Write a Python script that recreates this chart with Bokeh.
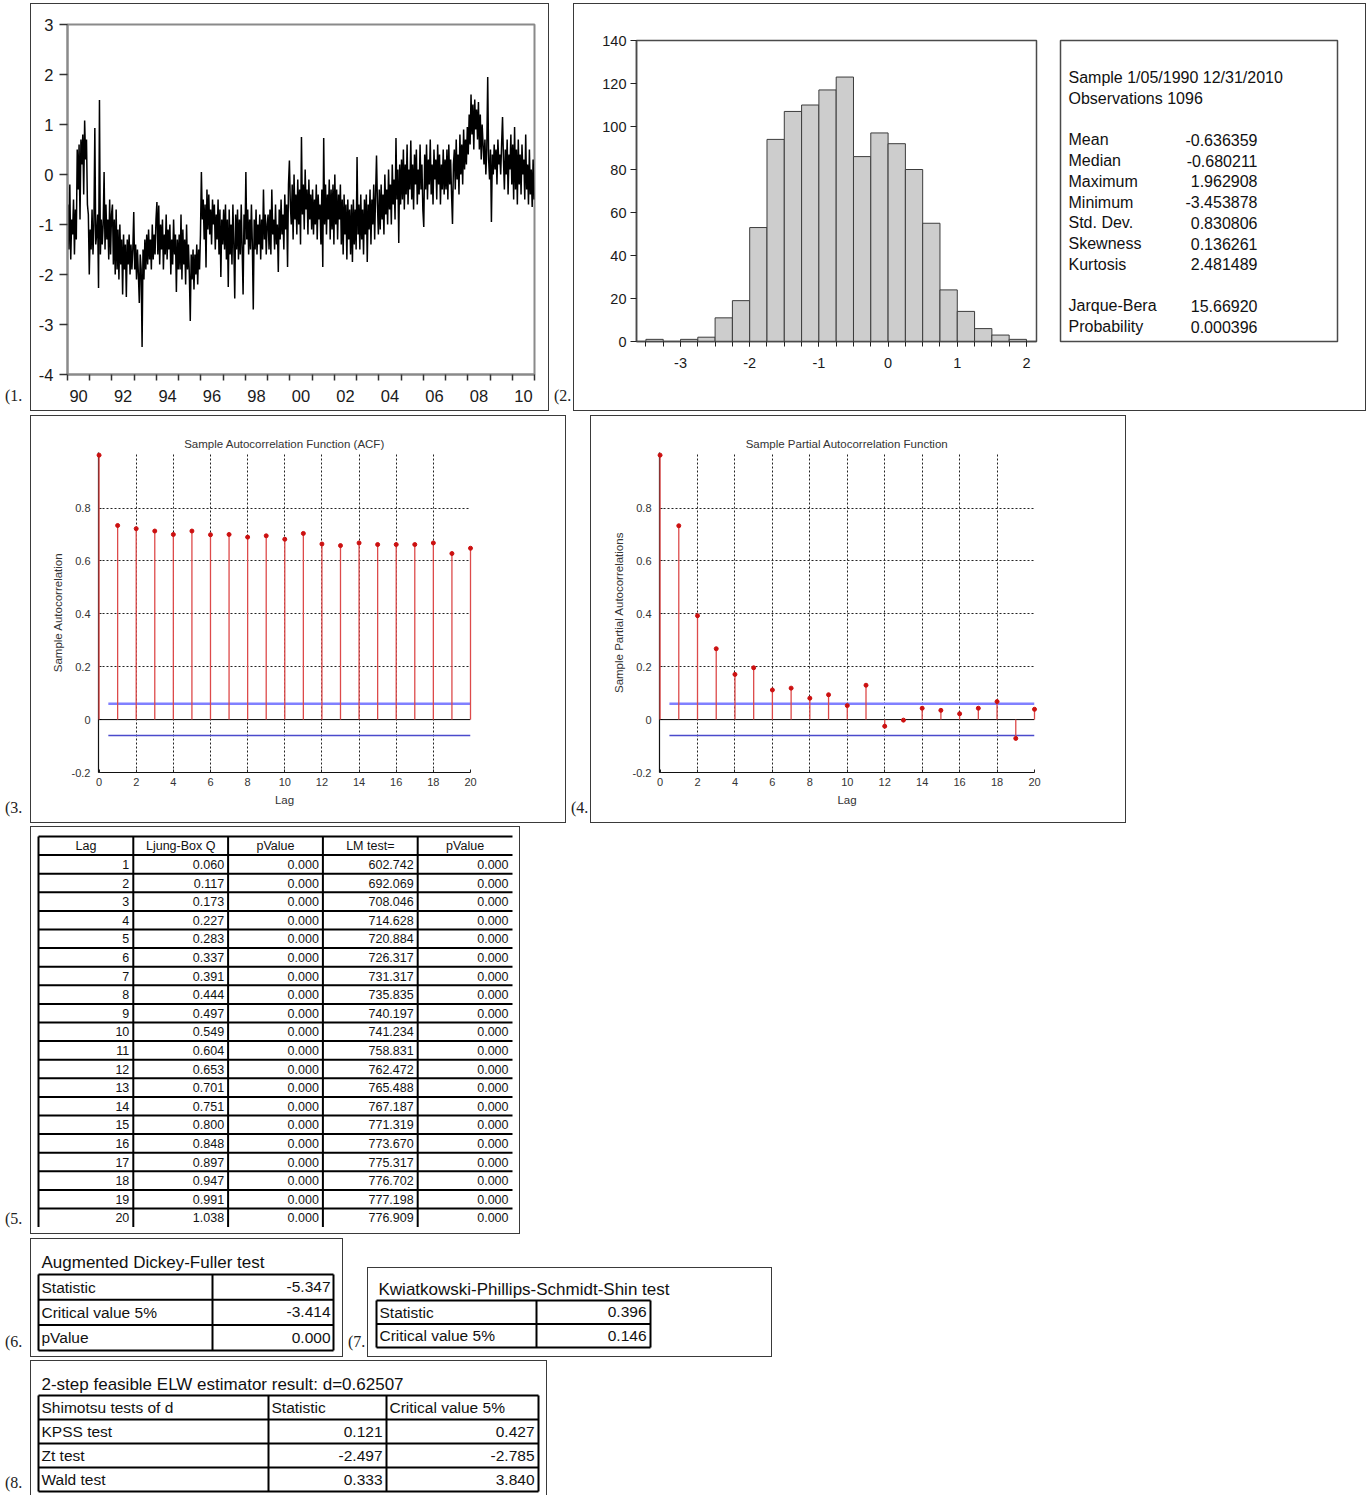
from bokeh.plotting import figure
from bokeh.models import FixedTicker, Div, Spacer, Range1d, Span, CustomJSTickFormatter
from bokeh.layouts import row, column
from bokeh.core.properties import value
from bokeh.embed import file_html
from bokeh.resources import INLINE

# ---------------- data ----------------
# (1) weekly series, read off the picture as half-monthly values per year
y1990 = [-0.6, -1.5, -0.2, -1.7, -0.9, -1.2, -0.5, -1.6, -0.7, -1.3, 0.5, -0.3, 0.6, -0.9, 0.7, 0.2, 0.8, -0.4, 1.08, 0.3, 0.7, -0.6, -0.8, -2.0]
y1991 = [-1.1, -1.5, -0.7, -1.6, -1.0, 0.93, -1.4, -1.2, -0.8, -2.27, 1.49, -1.6, -0.9, -1.4, -1.0, 0.05, -1.5, -0.6, -1.3, -0.9, -1.7, -0.5, -1.6, -0.8]
y1992 = [-0.6, -1.8, -0.9, -2.0, -0.7, -1.9, -1.1, -2.1, -1.0, -1.8, -1.3, -2.4, -1.2, -1.9, -1.4, -2.45, -1.3, -1.8, -1.2, -2.0, -1.4, -1.9, -1.5, -0.75]
y1993 = [-1.9, -1.4, -2.1, -1.5, -2.0, -2.57, -1.6, -1.9, -3.45, -1.5, -2.1, -1.3, -1.9, -1.2, -1.8, -1.1, -1.7, -1.3, -1.9, -1.0, -1.7, -1.2, -1.6, -0.9]
y1994 = [-0.55, -1.6, -0.62, -1.8, -1.0, -1.5, -0.9, -1.9, -1.2, -1.6, -0.8, -1.7, -1.1, -1.5, -1.0, -2.0, -1.3, -1.8, -0.9, -1.6, -1.2, -2.35, -1.3, -1.9]
y1995 = [-1.2, -1.9, -0.8, -2.1, -1.1, -1.8, -1.3, -2.2, -1.0, -1.9, -1.4, -2.0, -2.93, -1.6, -2.1, -1.5, -2.3, -1.6, -2.0, -1.4, -2.2, -1.5, -1.9, -1.2]
y1996 = [0.05, -0.9, -0.5, -1.3, -0.6, -1.86, -0.3, -1.1, -0.4, -1.2, -0.7, -1.4, -0.5, -1.0, -0.6, -1.5, -0.8, -1.3, -0.5, -1.6, -0.7, -2.05, -0.9, -1.4]
y1997 = [-0.7, -1.5, -0.6, -1.7, -0.9, -2.25, -0.7, -1.6, -1.0, -1.8, -0.6, -1.4, -2.48, -0.8, -1.5, -0.7, -1.7, -0.9, -1.6, -0.6, -1.5, -2.4, -0.8, -1.4]
y1998 = [0.05, -1.3, -0.7, -1.6, -0.9, -1.5, -0.6, -1.4, -2.7, -0.9, -1.5, -0.7, -1.6, -1.0, -1.4, -0.8, -1.7, -0.9, -1.5, -0.3, -1.3, -0.8, -1.6, -1.0]
y1999 = [-0.8, -1.5, -0.7, -1.6, -0.3, -1.2, -0.9, -1.5, -0.6, -1.4, -1.0, -1.95, -0.7, -1.3, -0.5, -1.2, -0.8, -1.5, -0.4, -1.1, -0.6, -1.85, -0.2, 0.28]
y2000 = [-0.6, -1.0, -0.2, -1.3, 0.0, -0.9, -0.4, -1.2, -0.1, -1.0, -0.3, -1.4, 0.75, -0.8, -0.2, -1.1, 0.1, -0.7, -0.3, -1.2, -0.1, -0.9, -0.4, -1.1]
y2001 = [-0.3, -1.2, -0.5, -1.0, -0.2, -1.3, -0.4, -0.9, -0.6, -1.4, -0.3, -1.85, 0.73, -1.0, -0.2, -1.2, -0.4, -0.9, -0.1, -1.3, -0.3, -1.1, -0.2, -1.4]
y2002 = [0.0, -1.0, -0.3, -1.3, -0.4, -0.9, -0.2, -1.4, -0.5, -1.6, -0.4, -1.2, -0.6, -1.7, -0.5, -1.3, -0.7, -1.6, -0.6, -1.75, -0.5, -1.4, -0.7, -1.5]
y2003 = [0.35, -1.2, -0.6, -1.5, -0.4, -1.3, -0.7, -1.6, -0.5, -1.2, -0.4, -1.75, -0.6, -1.1, -0.3, -1.4, -0.5, -1.0, -0.2, -1.3, -0.4, 0.38, -0.6, -1.2]
y2004 = [-0.3, -1.1, -0.2, -0.9, -0.4, -1.2, 0.0, -0.8, -0.3, -1.0, 0.1, -0.7, -0.2, -1.0, 0.2, -0.6, -0.1, -0.9, 0.73, -0.5, 0.1, -1.37, 0.2, -0.6]
y2005 = [0.3, -0.5, 0.5, -0.7, 0.2, -0.4, 0.6, -0.6, 0.1, -0.3, 0.68, -0.5, 0.2, -0.7, 0.4, -0.2, 0.5, -0.6, 0.1, -0.4, 0.6, -0.3, 0.2, -0.7]
y2006 = [-1.05, 0.4, -0.3, 0.6, -0.5, 0.3, -0.2, 0.7, -0.4, 0.2, -0.6, 0.5, -0.1, 0.3, -0.5, 0.6, -0.2, 0.4, -0.6, 0.2, -0.3, 0.5, -0.4, 0.3]
y2007 = [-0.3, 0.5, -0.5, 0.6, -0.2, 0.3, -0.4, -0.99, 0.2, 0.5, -0.3, 0.7, -0.1, 0.4, -0.4, 0.8, 0.0, 0.6, -0.2, 0.9, 0.1, 0.7, 0.2, 0.95]
y2008 = [0.4, 1.2, 0.6, 1.6, 0.8, 1.4, 0.5, 1.5, 0.9, 1.3, 0.7, 1.45, 0.5, 1.2, 0.3, 1.0, 0.6, 0.2, 0.7, 0.0, 0.5, 1.95, 0.3, -0.1]
y2009 = [0.5, -0.95, 0.4, 0.0, 0.6, 0.1, 0.5, -0.2, 0.7, 0.2, 0.4, 0.0, 0.6, 1.15, 0.3, -0.3, 0.5, 0.0, 0.7, -0.4, 0.4, 0.1, 0.8, -0.2]
y2010 = [0.6, -0.5, 0.95, -0.3, 0.5, -0.6, 0.7, -0.2, 0.4, -0.4, 0.6, 0.0, 0.3, -0.5, 0.8, -0.3, 0.2, -0.6, 0.5, -0.4, 0.1, -0.65, 0.3, -0.5]
series_years = list(range(1990, 2011))
year_label_ticks = [1990, 1992, 1994, 1996, 1998, 2000, 2002, 2004, 2006, 2008, 2010]

# (2) histogram + statistics
hist_bin_start = -3.5
hist_bin_width = 0.25
hist_counts = [1, 0, 1, 2, 11, 19, 53, 94, 107, 110, 117, 123, 86, 97, 92, 80, 55, 24, 14, 6, 3, 1]
stats_header = ["Sample 1/05/1990 12/31/2010", "Observations 1096"]
stat_names = ["Mean", "Median", "Maximum", "Minimum", "Std. Dev.", "Skewness", "Kurtosis"]
stat_values = ["-0.636359", "-0.680211", "1.962908", "-3.453878", "0.830806", "0.136261", "2.481489"]
jb_names = ["Jarque-Bera", "Probability"]
jb_values = ["15.66920", "0.000396"]

# (3)/(4) ACF and PACF
lags = list(range(0, 21))
acf_values = [1.0, 0.734, 0.722, 0.713, 0.700, 0.713, 0.699, 0.700, 0.690, 0.695, 0.682,
              0.704, 0.664, 0.658, 0.668, 0.662, 0.662, 0.662, 0.668, 0.628, 0.648]
pacf_values = [1.0, 0.733, 0.393, 0.268, 0.171, 0.196, 0.112, 0.119, 0.081, 0.094, 0.053,
               0.130, -0.025, -0.002, 0.043, 0.035, 0.022, 0.043, 0.068, -0.071, 0.039]
conf_bound = 0.06

# (5) Ljung-Box / LM table
tbl_header = ["Lag", "Ljung-Box Q", "pValue", "LM test=", "pValue"]
tbl_lag = [str(i) for i in range(1, 21)]
tbl_q = ["0.060", "0.117", "0.173", "0.227", "0.283", "0.337", "0.391", "0.444", "0.497", "0.549",
         "0.604", "0.653", "0.701", "0.751", "0.800", "0.848", "0.897", "0.947", "0.991", "1.038"]
tbl_q_p = ["0.000"] * 20
tbl_lm = ["602.742", "692.069", "708.046", "714.628", "720.884", "726.317", "731.317", "735.835",
          "740.197", "741.234", "758.831", "762.472", "765.488", "767.187", "771.319", "773.670",
          "775.317", "776.702", "777.198", "776.909"]
tbl_lm_p = ["0.000"] * 20

# (6) ADF
adf_title = "Augmented Dickey-Fuller test"
adf_rows = ["Statistic", "Critical value 5%", "pValue"]
adf_vals = ["-5.347", "-3.414", "0.000"]
# (7) KPSS
kpss_title = "Kwiatkowski-Phillips-Schmidt-Shin test"
kpss_rows = ["Statistic", "Critical value 5%"]
kpss_vals = ["0.396", "0.146"]
# (8) ELW
elw_title = "2-step feasible ELW estimator result: d=0.62507"
elw_header = ["Shimotsu tests of d", "Statistic", "Critical value 5%"]
elw_rows = ["KPSS test", "Zt test", "Wald test"]
elw_stat = ["0.121", "-2.497", "0.333"]
elw_crit = ["0.427", "-2.785", "3.840"]

# ---------------- helpers ----------------
SANS = "Liberation Sans"
SERIF = "Liberation Serif"
BOXC = "#3a3a3a"
BOX = {"box-shadow": f"inset 0 0 0 1px {BOXC}"}
BOX_OPEN_BOTTOM = {"box-shadow": f"inset 1px 0 0 0 {BOXC}, inset -1px 0 0 0 {BOXC}, inset 0 1px 0 0 {BOXC}"}
PLAIN_FMT = "return Number.isInteger(tick) ? String(tick) : tick.toString();"


def label_div(txt, w, h, pb=3):
    html = (f'<div style="height:{h}px;width:{w}px;display:flex;align-items:flex-end;'
            f'padding-bottom:{pb}px;padding-left:5px;box-sizing:border-box;'
            f'font-family:\'{SERIF}\',serif;font-size:16px;color:#222;white-space:nowrap;">{txt}</div>')
    return Div(text=html, width=w, height=h, margin=0)


def base_fig(w, h, **kw):
    p = figure(width=w, height=h, output_backend="svg", toolbar_location=None, **kw)
    p.border_fill_alpha = 0
    return p


def table_fig(w, h, styles):
    p = base_fig(w, h, x_range=Range1d(0, w), y_range=Range1d(h, 0), min_border=0,
                 x_axis_location=None, y_axis_location=None, styles=styles)
    p.grid.visible = False
    p.outline_line_color = None
    p.background_fill_alpha = 0
    return p


def put_text(p, xs, ys, texts, align, size, weight="normal"):
    p.text(x=xs, y=ys, text=texts, text_align=align, text_baseline="middle",
           text_font=value(SANS), text_font_size=size, text_color="#111",
           text_font_style=weight)


def grid_lines(p, xs_v, y0, y1, ys_h, x0, x1, width=2):
    p.segment(x0=xs_v, y0=[y0] * len(xs_v), x1=xs_v, y1=[y1] * len(xs_v),
              line_color="black", line_width=width)
    p.segment(x0=[x0] * len(ys_h), y0=ys_h, x1=[x1] * len(ys_h), y1=ys_h,
              line_color="black", line_width=width)


# ---------------- (1) time series ----------------
blocks = [y1990, y1991, y1992, y1993, y1994, y1995, y1996, y1997, y1998, y1999, y2000,
          y2001, y2002, y2003, y2004, y2005, y2006, y2007, y2008, y2009, y2010]
ts_x, ts_y = [], []
for yr, blk in zip(series_years, blocks):
    for k, v in enumerate(blk):
        ts_x.append(yr + (k + 0.5) / len(blk))
        ts_y.append(v)

p1 = base_fig(519, 408, x_range=Range1d(1990, 2011), y_range=Range1d(-4, 3),
              min_border_left=37, min_border_right=15, min_border_top=21, min_border_bottom=37,
              styles=BOX)
p1.line(ts_x, ts_y, line_color="black", line_width=1.5)
p1.grid.visible = False
p1.outline_line_color = "#8a8a8a"
p1.outline_line_width = 2
xa = p1.xaxis[0]
xa.ticker = FixedTicker(ticks=[y + 0.5 for y in year_label_ticks],
                        minor_ticks=series_years + [2011])
xa.formatter = CustomJSTickFormatter(code="return String(Math.floor(tick) % 100).padStart(2, '0');")
xa.major_tick_line_color = None
xa.major_tick_out = 6
xa.major_tick_in = 0
xa.minor_tick_out = 6
xa.minor_tick_in = 0
xa.minor_tick_line_color = "#333"
xa.minor_tick_line_width = 1.5
xa.major_label_standoff = 9
ya = p1.yaxis[0]
ya.ticker = FixedTicker(ticks=list(range(-4, 4)))
ya.formatter = CustomJSTickFormatter(code=PLAIN_FMT)
ya.major_tick_out = 8
ya.major_tick_in = 0
ya.major_tick_line_color = "#333"
ya.major_tick_line_width = 1.5
ya.minor_tick_line_color = None
ya.major_label_standoff = 6
for ax in (xa, ya):
    ax.axis_line_color = "#8a8a8a"
    ax.axis_line_width = 2
    ax.major_label_text_font = SANS
    ax.major_label_text_font_size = "16.5px"
    ax.major_label_text_color = "#1a1a1a"

# ---------------- (2) histogram + stats ----------------
lefts = [hist_bin_start + i * hist_bin_width for i in range(len(hist_counts))]
rights = [l + hist_bin_width for l in lefts]
p2h = base_fig(465, 408, x_range=Range1d(-3.636, 2.145), y_range=Range1d(0, 140),
               min_border_left=63, min_border_right=2, min_border_top=37, min_border_bottom=69)
p2h.quad(left=lefts, right=rights, bottom=0, top=hist_counts,
         fill_color="#cdcdcd", line_color="#3c3c3c", line_width=1)
p2h.grid.visible = False
p2h.outline_line_color = "#4a4a4a"
p2h.outline_line_width = 1.5
hx = p2h.xaxis[0]
hx.ticker = FixedTicker(ticks=[-3, -2, -1, 0, 1, 2],
                        minor_ticks=[hist_bin_start + i * hist_bin_width for i in range(len(hist_counts) + 1)])
hx.major_tick_out = 5
hx.major_tick_in = 0
hx.minor_tick_out = 5
hx.minor_tick_in = 0
hx.minor_tick_line_color = "#222"
hx.major_label_standoff = 11
hy = p2h.yaxis[0]
hy.ticker = FixedTicker(ticks=list(range(0, 141, 20)))
hy.major_tick_out = 6
hy.major_tick_in = 0
hy.minor_tick_line_color = None
hy.major_label_standoff = 4
for ax in (hx, hy):
    ax.formatter = CustomJSTickFormatter(code=PLAIN_FMT)
    ax.axis_line_color = "#4a4a4a"
    ax.axis_line_width = 1.5
    ax.major_tick_line_color = "#222"
    ax.major_label_text_font = SANS
    ax.major_label_text_font_size = "14.5px"
    ax.major_label_text_color = "#1a1a1a"

p2s = base_fig(328, 408, x_range=Range1d(0, 277), y_range=Range1d(301, 0),
               min_border_left=22, min_border_right=29, min_border_top=37, min_border_bottom=70,
               x_axis_location=None, y_axis_location=None)
p2s.grid.visible = False
p2s.outline_line_color = "#4a4a4a"
p2s.outline_line_width = 1.5
LINE_STEP = 20.75
FIRST = 37
put_text(p2s, [8] * 2, [FIRST + i * LINE_STEP for i in range(2)], stats_header, "left", "16px")
ys_stats = [FIRST + (3 + i) * LINE_STEP for i in range(len(stat_names))]
put_text(p2s, [8] * len(stat_names), ys_stats, stat_names, "left", "16px")
put_text(p2s, [197] * len(stat_values), ys_stats, stat_values, "right", "16px")
ys_jb = [FIRST + (11 + i) * LINE_STEP for i in range(len(jb_names))]
put_text(p2s, [8] * 2, ys_jb, jb_names, "left", "16px")
put_text(p2s, [197] * 2, ys_jb, jb_values, "right", "16px")
panel2 = row(p2h, p2s, styles=BOX)

# ---------------- (3)/(4) ACF, PACF ----------------
def corr_panel(title, ylabel, vals, w, left, right):
    p = base_fig(w, 408, x_range=Range1d(-0.03, 20), y_range=Range1d(-0.2, 1.01),
                 min_border_left=left, min_border_right=right, min_border_top=37,
                 min_border_bottom=51, title=title, styles=BOX)
    p.title.align = "center"
    p.title.text_font = SANS
    p.title.text_font_size = "11.5px"
    p.title.text_font_style = "normal"
    p.title.text_color = "#333"
    p.title.standoff = 6
    p.outline_line_color = None
    ax_x = p.xaxis[0]
    ax_y = p.yaxis[0]
    ax_x.ticker = FixedTicker(ticks=list(range(0, 21, 2)))
    ax_y.ticker = FixedTicker(ticks=[-0.2, 0, 0.2, 0.4, 0.6, 0.8])
    ax_y.formatter = CustomJSTickFormatter(code="return Math.abs(tick) < 1e-9 ? '0' : tick.toFixed(1);")
    ax_x.axis_label = "Lag"
    ax_y.axis_label = ylabel
    for ax in (ax_x, ax_y):
        ax.major_tick_in = 3
        ax.major_tick_out = 0
        ax.minor_tick_line_color = None
        ax.axis_line_color = "#111"
        ax.axis_line_width = 1.2
        ax.major_tick_line_color = "#222"
        ax.major_label_text_font = SANS
        ax.major_label_text_font_size = "11px"
        ax.major_label_text_color = "#333"
        ax.axis_label_text_font = SANS
        ax.axis_label_text_font_size = "11.5px"
        ax.axis_label_text_font_style = "normal"
        ax.axis_label_text_color = "#333"
        ax.axis_label_standoff = 5
    ax_x.major_label_standoff = 5
    ax_y.major_label_standoff = 8
    p.xgrid.ticker = FixedTicker(ticks=list(range(2, 21, 2)))
    p.ygrid.ticker = FixedTicker(ticks=[0.2, 0.4, 0.6, 0.8])
    p.grid.grid_line_color = "#222"
    p.grid.grid_line_dash = "2 2"
    p.grid.grid_line_width = 1
    p.add_layout(Span(location=0, dimension="width", line_color="black", line_width=1))
    p.segment(x0=lags, y0=[0] * len(lags), x1=lags, y1=vals, line_color="#dd4a4a",
              line_width=1.3, level="overlay")
    p.scatter(lags, vals, size=4, color="#cc1010", level="overlay")
    p.segment(x0=[0.5], y0=[conf_bound], x1=[20], y1=[conf_bound], line_color="#8080ff", line_width=2.5)
    p.segment(x0=[0.5], y0=[-conf_bound], x1=[20], y1=[-conf_bound], line_color="#4a4acc", line_width=1.3)
    return p


p3 = corr_panel("Sample Autocorrelation Function (ACF)", "Sample Autocorrelation", acf_values, 536, 68, 96)
p4 = corr_panel("Sample Partial Autocorrelation Function", "Sample Partial Autocorrelations", pacf_values, 536, 69, 92)

# ---------------- (5) table ----------------
p5 = table_fig(490, 408, BOX)
T_LEFT, T_TOP, COL_W, ROW_H = 8, 10, 94.8, 18.6
n_rows = len(tbl_lag) + 1
col_x = [T_LEFT + i * COL_W for i in range(len(tbl_header) + 1)]
row_y = [T_TOP + i * ROW_H for i in range(n_rows + 1)]
grid_lines(p5, col_x[:-1], row_y[0], row_y[-1], row_y[:-1], col_x[0], col_x[-1])
put_text(p5, [c + COL_W / 2 for c in col_x[:-1]], [T_TOP + ROW_H / 2] * len(tbl_header),
         tbl_header, "center", "12.5px")
data_cols = [tbl_lag, tbl_q, tbl_q_p, tbl_lm, tbl_lm_p]
for ci, colvals in enumerate(data_cols):
    put_text(p5, [col_x[ci + 1] - 4] * len(colvals),
             [T_TOP + (ri + 1.5) * ROW_H for ri in range(len(colvals))], colvals, "right", "12.5px")

# ---------------- (6) ADF ----------------
p6 = table_fig(313, 119, BOX)
put_text(p6, [11], [24], [adf_title], "left", "17px")
a_rows = [36 + i * 25.3 for i in range(len(adf_rows) + 1)]
grid_lines(p6, [8, 182, 303], a_rows[0], a_rows[-1], a_rows, 8, 303)
put_text(p6, [11] * len(adf_rows), [y + 12.6 for y in a_rows[:-1]], adf_rows, "left", "15.5px")
put_text(p6, [300] * len(adf_vals), [y + 12.6 for y in a_rows[:-1]], adf_vals, "right", "15.5px")

# ---------------- (7) KPSS ----------------
p7 = table_fig(405, 90, BOX)
put_text(p7, [11], [22], [kpss_title], "left", "17px")
k_rows = [33 + i * 23.5 for i in range(len(kpss_rows) + 1)]
grid_lines(p7, [9, 169, 283], k_rows[0], k_rows[-1], k_rows, 9, 283)
put_text(p7, [12] * len(kpss_rows), [y + 11.8 for y in k_rows[:-1]], kpss_rows, "left", "15.5px")
put_text(p7, [279] * len(kpss_vals), [y + 11.8 for y in k_rows[:-1]], kpss_vals, "right", "15.5px")

# ---------------- (8) ELW ----------------
p8 = table_fig(517, 135, BOX_OPEN_BOTTOM)
put_text(p8, [11], [24], [elw_title], "left", "17px")
e_rows = [35 + i * 24 for i in range(len(elw_rows) + 2)]
grid_lines(p8, [8, 238, 356, 508], e_rows[0], e_rows[-1], e_rows, 8, 508)
put_text(p8, [11, 241, 359], [e_rows[0] + 12] * 3, elw_header, "left", "15.5px")
ey = [y + 12 for y in e_rows[1:-1]]
put_text(p8, [11] * len(elw_rows), ey, elw_rows, "left", "15.5px")
put_text(p8, [352] * len(elw_stat), ey, elw_stat, "right", "15.5px")
put_text(p8, [504] * len(elw_crit), ey, elw_crit, "right", "15.5px")

# ---------------- layout ----------------
r1 = row(label_div("(1.", 30, 408), p1, label_div("(2.", 24, 408), panel2)
r2 = row(label_div("(3.", 30, 408), p3, label_div("(4.", 24, 408), p4)
r3 = row(label_div("(5.", 30, 408), p5)
r4 = row(label_div("(6.", 30, 119), p6, label_div("(7.", 24, 119),
         column(Spacer(width=405, height=29), p7))
r5 = row(label_div("(8.", 30, 135, pb=0), p8)
layout = column(Spacer(width=10, height=3), r1, Spacer(width=10, height=4), r2,
                Spacer(width=10, height=3), r3, Spacer(width=10, height=4), r4,
                Spacer(width=10, height=3), r5)

open("out.html", "w").write(file_html(layout, INLINE, title="chart"))
